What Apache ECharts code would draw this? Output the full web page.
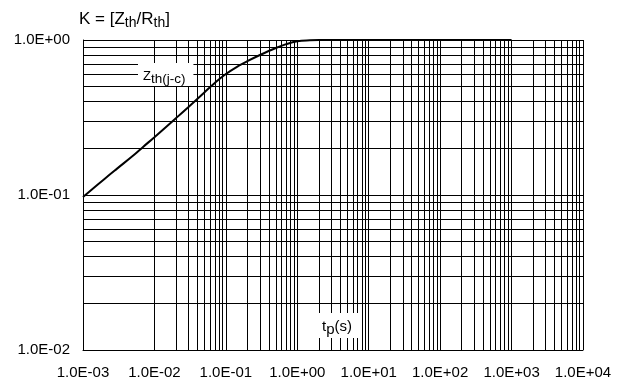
<!DOCTYPE html>
<html>
<head>
<meta charset="utf-8">
<script src="https://cdn.jsdelivr.net/npm/echarts@6/dist/echarts.min.js"></script>
<style>html,body{margin:0;padding:0;background:#fff}#c{width:626px;height:385px}</style>
</head>
<body>
<div id="c"></div>
<script>
// Curve Zth(j-c): pulse duration tp (s) vs K = Zth/Rth
const tData = [0.001, 0.002, 0.003, 0.005, 0.007, 0.01, 0.02, 0.03, 0.05, 0.07, 0.1, 0.15, 0.2, 0.3, 0.5, 0.7, 1, 1.5, 2, 3, 5, 10, 100, 1000];
const kData = [0.097, 0.127, 0.148, 0.179, 0.205, 0.236, 0.313, 0.370, 0.459, 0.528, 0.603, 0.680, 0.730, 0.800, 0.888, 0.940, 0.980, 0.996, 1.0, 1.0, 1.0, 1.0, 1.0, 1.0];
// Axis tick (decade) labels
const xTickLabels = ['1.0E-03', '1.0E-02', '1.0E-01', '1.0E+00', '1.0E+01', '1.0E+02', '1.0E+03', '1.0E+04'];
const yTickLabels = ['1.0E-02', '1.0E-01', '1.0E+00'];
const xDecades = [-3, -2, -1, 0, 1, 2, 3];
const yDecades = [-2, -1];
const mantissas = [1, 2, 3, 4, 5, 6, 7, 8, 9];

const xGrid = [];
xDecades.forEach(d => mantissas.forEach(m => xGrid.push(+(m * Math.pow(10, d)).toPrecision(3))));
xGrid.push(10000);
const yGrid = [];
yDecades.forEach(d => mantissas.forEach(m => yGrid.push(+(m * Math.pow(10, d)).toPrecision(3))));
yGrid.push(1);

function fmt(v) {
  const e = Math.round(Math.log10(v));
  return '1.0E' + (e < 0 ? '-' : '+') + String(Math.abs(e)).padStart(2, '0');
}

const FONT = '"Liberation Sans", Arial, sans-serif';
const chart = echarts.init(document.getElementById('c'), null, {renderer: 'canvas'});
chart.setOption({
  animation: false,
  backgroundColor: '#fff',
  grid: {left: 83, right: 43, top: 40, bottom: 35, containLabel: false},
  xAxis: {
    type: 'log', logBase: 10, min: 0.001, max: 10000, interval: 1, splitNumber: 7,
    axisLine: {show: true, onZero: false, lineStyle: {color: '#000', width: 1}},
    axisTick: {show: false},
    splitLine: {show: false},
    axisLabel: {color: '#000', fontSize: 15, fontFamily: FONT, margin: 15, formatter: fmt}
  },
  yAxis: {
    type: 'log', logBase: 10, min: 0.01, max: 1, interval: 1, splitNumber: 2,
    axisLine: {show: true, onZero: false, lineStyle: {color: '#000', width: 1}},
    axisTick: {show: false},
    splitLine: {show: false},
    axisLabel: {color: '#000', fontSize: 15, fontFamily: FONT, margin: 13, padding: [3, 0, 0, 0], formatter: fmt}
  },
  series: [{
    type: 'line',
    data: tData.map((t, i) => [t, kData[i]]),
    showSymbol: false,
    smooth: 0.4,
    lineStyle: {color: '#000', width: 2},
    z: 5,
    silent: true,
    markLine: {
      silent: true,
      symbol: ['none', 'none'],
      label: {show: false},
      emphasis: {disabled: true},
      lineStyle: {type: 'solid', color: '#000', width: 1, opacity: 1},
      data: xGrid.map(v => ({xAxis: v})).concat(yGrid.map(v => ({yAxis: v})))
    }
  }],
  graphic: [
    {
      type: 'text', left: 79, top: 11, z: 10,
      style: {
        text: '{a|K = [Z}{s|th}{a|/R}{s|th}{a|]}',
        rich: {
          a: {fontSize: 17, fontFamily: FONT, fill: '#000', lineHeight: 20, verticalAlign: 'bottom'},
          s: {fontSize: 14, fontFamily: FONT, fill: '#000', lineHeight: 14, verticalAlign: 'bottom', padding: [0, 0, -2, 0]}
        }
      }
    },
    {
      type: 'text', left: 138, top: 63, z: 10,
      style: {
        text: '{a|Z}{s|th(j-c)}',
        backgroundColor: '#fff',
        padding: [4, 8, 3, 5],
        rich: {
          a: {fontSize: 13, fontFamily: FONT, fill: '#000', lineHeight: 16, verticalAlign: 'bottom'},
          s: {fontSize: 13.5, fontFamily: FONT, fill: '#000', lineHeight: 12, verticalAlign: 'bottom', padding: [0, 0, -3, 0]}
        }
      }
    },
    {
      type: 'text', left: 317, top: 313, z: 10,
      style: {
        text: '{a|t}{s|p}{a|(s)}',
        backgroundColor: '#fff',
        padding: [4, 8, 4, 5],
        rich: {
          a: {fontSize: 15, fontFamily: FONT, fill: '#000', lineHeight: 17, verticalAlign: 'bottom'},
          s: {fontSize: 15, fontFamily: FONT, fill: '#000', lineHeight: 15, verticalAlign: 'bottom', padding: [0, 0, -3, 0]}
        }
      }
    }
  ]
});
</script>
</body>
</html>
